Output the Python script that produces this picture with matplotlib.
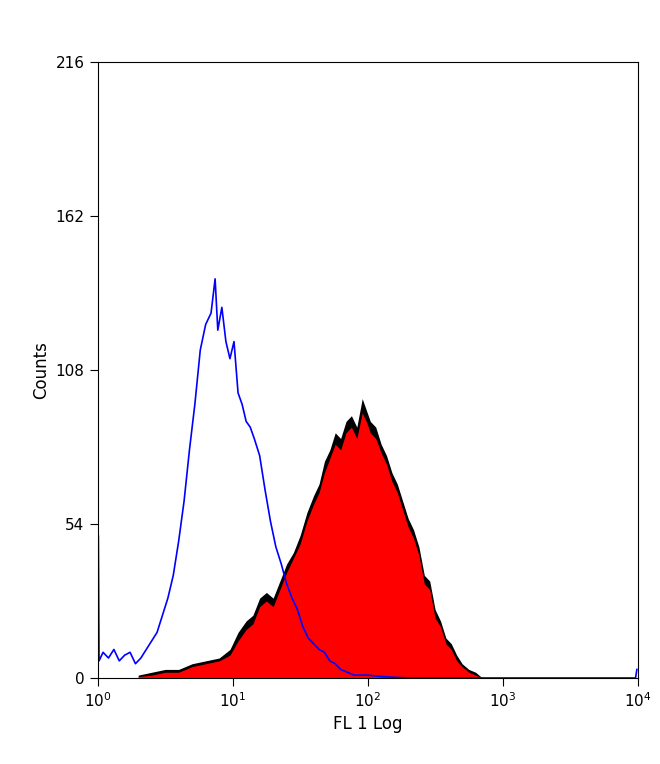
import matplotlib

matplotlib.use("Agg")
import matplotlib.pyplot as plt
import numpy as np

# histogram channels as log10(FL1) positions
blue_log = [0.00, 0.005, 0.01, 0.04, 0.08, 0.12, 0.16, 0.20, 0.24, 0.28, 0.32, 0.36, 0.40, 0.44, 0.48,
            0.52, 0.56, 0.60, 0.64, 0.68, 0.72, 0.76, 0.80, 0.84, 0.87, 0.89, 0.92, 0.95, 0.98,
            1.01, 1.04, 1.07, 1.10, 1.13, 1.16, 1.20, 1.24, 1.28, 1.32, 1.36, 1.40, 1.44, 1.48,
            1.52, 1.56, 1.60, 1.64, 1.68, 1.72, 1.76, 1.80, 1.85, 1.90, 2.00, 2.10, 2.30, 2.60,
            3.00, 3.50, 3.985, 3.995]
blue_cnt = [50, 50, 6, 9, 7, 10, 6, 8, 9, 5, 7, 10, 13, 16, 22,
            28, 36, 48, 62, 80, 96, 115, 124, 128, 140, 122, 130, 118, 112,
            118, 100, 96, 90, 88, 84, 78, 66, 55, 46, 40, 33, 28, 24,
            18, 14, 12, 10, 9, 6, 5, 3, 2, 1, 1, 0.5, 0, 0,
            0, 0, 0, 3]

black_log = [0.30, 0.40, 0.50, 0.60, 0.70, 0.80, 0.90, 0.98, 1.04, 1.10, 1.15, 1.20, 1.25, 1.30,
             1.35, 1.40, 1.45, 1.50, 1.55, 1.60, 1.64, 1.68, 1.72, 1.76, 1.80, 1.84, 1.88, 1.92,
             1.96, 1.99, 2.02, 2.06, 2.10, 2.14, 2.18, 2.22, 2.26, 2.30, 2.34, 2.38, 2.42, 2.46,
             2.50, 2.54, 2.58, 2.62, 2.66, 2.70, 2.75, 2.80, 2.85]
black_cnt = [1, 2, 3, 3, 5, 6, 7, 10, 16, 20, 22, 28, 30, 28,
             34, 40, 44, 50, 58, 64, 68, 76, 80, 86, 84, 90, 92, 88,
             98, 94, 90, 88, 82, 78, 72, 68, 62, 56, 52, 46, 36, 34,
             24, 20, 14, 12, 8, 5, 3, 2, 0]
red_cnt = [0.5, 1, 2, 2, 4, 5, 6, 8, 13, 17, 19, 25, 27, 25,
           31, 37, 42, 47, 55, 61, 65, 72, 77, 82, 80, 86, 88, 84,
           93, 90, 86, 84, 79, 75, 69, 65, 59, 53, 49, 43, 33, 31,
           21, 18, 12, 10, 6, 4, 2, 1, 0]

fig = plt.figure(figsize=(6.6, 7.64), dpi=100)
ax = fig.add_axes([0.148, 0.1126, 0.818, 0.806])

bx = 10 ** np.array(black_log)
ax.fill_between(bx, black_cnt, color="black", lw=0)
ax.fill_between(bx, red_cnt, color="#ff0000", lw=0)
ax.plot(10 ** np.array(blue_log), blue_cnt, color="#0000ff", lw=1.2)

ax.set_xscale("log")
ax.set_xlim(1, 1e4)
ax.set_ylim(0, 216)
ax.set_yticks([0, 54, 108, 162, 216])
ax.set_xticks([1, 10, 100, 1000, 10000])
ax.set_xticklabels([r"$10^0$", r"$10^1$", r"$10^2$", r"$10^3$", r"$10^4$"])
ax.minorticks_off()
ax.tick_params(direction="out", length=6, labelsize=11)
ax.set_xlabel("FL 1 Log", fontsize=12)
ax.set_ylabel("Counts", fontsize=12)
fig.savefig("out.png")
